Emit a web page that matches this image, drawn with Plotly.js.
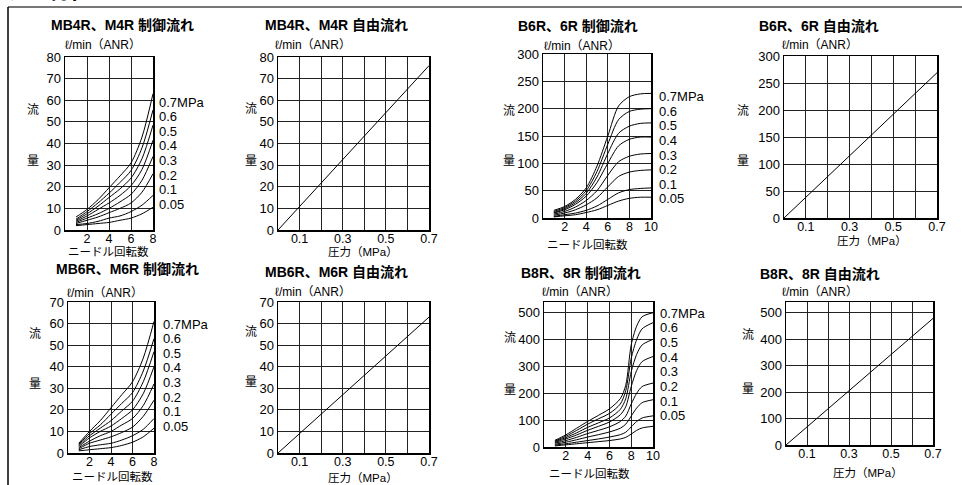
<!DOCTYPE html>
<html><head><meta charset="utf-8">
<script src="https://cdn.plot.ly/plotly-3.0.1.min.js"></script>
<style>html,body{margin:0;padding:0;background:#fff}#c{width:962px;height:485px}</style>
</head><body><div id="c"></div>
<script>
// ---------- DATA ----------
const pressureLabels = ['0.7MPa','0.6','0.5','0.4','0.3','0.2','0.1','0.05'];

// MB4R, M4R control flow (needle turns vs flow, l/min ANR), series order 0.7..0.05 MPa
const mb4rCtrlTurns = [1,2,3,4,5,6,7,8];
const mb4rCtrlFlow = [
  [6,9.5,14,19.5,25,31,43,63],
  [5,8.5,12.5,17,22,27.5,38,55.5],
  [4.5,7.5,11,15,19,24,33,48.5],
  [4,6.5,9.5,12.5,16,20.5,28,41.5],
  [3.5,5.5,7.5,10,13,16.5,23,34],
  [3,4.5,6,8,10,12.5,17.5,26],
  [2.5,3,4,5.5,6.5,8.5,11.5,16],
  [2,2.5,3,3.5,4.5,5.5,7.5,10.5]
];
// MB4R, M4R free flow (pressure MPa vs flow)
const freePressure = [0,0.1,0.2,0.3,0.4,0.5,0.6,0.7];
const mb4rFreeFlow = [0,10.9,21.8,32.7,43.6,54.5,65.3,76];

// B6R, 6R control flow
const b6rCtrlTurns = [1,2,3,4,5,6,7,8,9,10];
const b6rCtrlFlow = [
  [14,21,34,55,95,150,205,222,227,228],
  [12,19,31,50,85,135,180,195,199,200],
  [10,17,28,45,75,118,155,168,173,174],
  [9,15,25,40,65,100,132,144,148,148],
  [7,12,20,32,50,78,103,113,117,118],
  [5,9,15,24,37,57,76,84,87,88],
  [3,6,9,14,22,34,46,52,54,55],
  [2,4,6,10,15,23,31,36,38,38]
];
// B6R, 6R free flow
const b6rFreeFlow = [0,38.5,77,115.5,154,192.5,231,269];

// MB6R, M6R control flow
const mb6rCtrlTurns = [1,2,3,4,5,6,7,8];
const mb6rCtrlFlow = [
  [4.5,10,15,21,27,33,44,61],
  [4,9,13,18,23,28,38,53],
  [3.5,8,11.5,15,19.5,24,33,47],
  [3,7,10,12.5,16,20,27.5,40],
  [2.5,5.5,8,10,13,16,22,32],
  [2,4.5,6,7.5,9.5,12,17,24.5],
  [1.5,3,3.8,4.5,6,8,11,16],
  [1,1.5,2,2.5,3.5,5,7.5,11.5]
];
// MB6R, M6R free flow
const mb6rFreeFlow = [0,9,18,27,36,45,54,63];

// B8R, 8R control flow
const b8rCtrlTurns = [1,2,3,4,5,6,7,7.5,8,8.5,9,10];
const b8rCtrlFlow = [
  [25,45,70,95,118,142,180,230,380,450,485,500],
  [22,40,62,85,105,125,160,210,330,400,440,463],
  [20,35,53,73,90,108,140,180,280,345,380,401],
  [17,30,45,62,77,93,120,150,225,285,318,337],
  [14,24,36,50,62,75,95,115,160,200,225,238],
  [10,18,27,37,46,56,70,85,115,145,165,176],
  [7,12,18,24,30,37,46,55,75,95,108,116],
  [4,8,12,16,20,24,30,36,48,62,71,77]
];
// B8R, 8R free flow
const b8rFreeFlow = [0,68,137,205,274,342,410,478];

const ctrlTicks6 = [2,4,6,8];
const ctrlTicks10 = [2,4,6,8,10];
const freeTicks = [0.1,0.2,0.3,0.4,0.5,0.6,0.7];
const freeTickText = ['0.1','','0.3','','0.5','','0.7'];

// ---------- LAYOUT ----------
const W = 962, H = 485;
const fx = p => p / W, fy = p => 1 - p / H;
const FONT = 'Liberation Sans Narrow, Liberation Sans, Noto Sans CJK JP, sans-serif';
const JFONT = 'Liberation Sans, Noto Sans CJK JP, sans-serif';

const panels = [
  {title:'MB4R、M4R 制御流れ', xd:[65,153], yd:[57,230], xr:[0,8], yr:[0,80], ydt:10, xt:ctrlTicks6, xtt:null,
   xs:mb4rCtrlTurns, ys:mb4rCtrlFlow, lab:{x:157,y0:102,dy:14.6}, xtitle:'ニードル回転数', xtp:[108,252],
   tt:[122,25], unit:[103,45], ryu:[33,109,160]},
  {title:'MB4R、M4R 自由流れ', xd:[278,429], yd:[57,230], xr:[0,0.7], yr:[0,80], ydt:10, xt:freeTicks, xtt:freeTickText,
   xs:freePressure, ys:[mb4rFreeFlow], xtitle:'圧力（MPa）', xtp:[363,252],
   tt:[336,25], unit:[313,45], ryu:[251,107,160]},
  {title:'B6R、6R 制御流れ', xd:[543,651], yd:[54,218], xr:[0,10], yr:[0,300], ydt:50, xt:ctrlTicks10, xtt:null,
   xs:b6rCtrlTurns, ys:b6rCtrlFlow, lab:{x:657,y0:97,dy:14.5}, xtitle:'ニードル回転数', xtp:[587,245],
   tt:[578,26], unit:[582,46], ryu:[509,110,160]},
  {title:'B6R、6R 自由流れ', xd:[784,937], yd:[56,218], xr:[0,0.7], yr:[0,300], ydt:50, xt:freeTicks, xtt:freeTickText,
   xs:freePressure, ys:[b6rFreeFlow], xtitle:'圧力（MPa）', xtp:[872,241],
   tt:[819,26], unit:[820,45], ryu:[743,110,160]},
  {title:'MB6R、M6R 制御流れ', xd:[68,154], yd:[302,453], xr:[0,8], yr:[0,70], ydt:10, xt:ctrlTicks6, xtt:null,
   xs:mb6rCtrlTurns, ys:mb6rCtrlFlow, lab:{x:161,y0:324,dy:14.6}, xtitle:'ニードル回転数', xtp:[112,477],
   tt:[127,269], unit:[105,293], ryu:[35,332,382]},
  {title:'MB6R、M6R 自由流れ', xd:[278,429], yd:[302,453], xr:[0,0.7], yr:[0,70], ydt:10, xt:freeTicks, xtt:freeTickText,
   xs:freePressure, ys:[mb6rFreeFlow], xtitle:'圧力（MPa）', xtp:[363,478],
   tt:[336,272], unit:[313,292], ryu:[251,330,380]},
  {title:'B8R、8R 制御流れ', xd:[544,653], yd:[302,447], xr:[0,10], yr:[0,540], ydt:100, xt:ctrlTicks10, xtt:null,
   xs:b8rCtrlTurns, ys:b8rCtrlFlow, lab:{x:658,y0:313,dy:14.7}, xtitle:'ニードル回転数', xtp:[589,474],
   tt:[581,273], unit:[580,292], ryu:[510,336,388]},
  {title:'B8R、8R 自由流れ', xd:[786,933], yd:[302,445], xr:[0,0.7], yr:[0,540], ydt:100, xt:freeTicks, xtt:freeTickText,
   xs:freePressure, ys:[b8rFreeFlow], xtitle:'圧力（MPa）', xtp:[868,473],
   tt:[820,274], unit:[820,292], ryu:[748,333,387]}
];

const traces = [];
const layout = {
  width: W, height: H, margin:{l:0,r:0,t:0,b:0,pad:0},
  paper_bgcolor:'#fff', plot_bgcolor:'#fff', showlegend:false,
  font:{family:FONT, size:13, color:'#000'},
  annotations:[], shapes:[]
};

panels.forEach((p, i) => {
  const n = i + 1;
  const xa = 'xaxis' + (n === 1 ? '' : n), ya = 'yaxis' + (n === 1 ? '' : n);
  const xr = 'x' + (n === 1 ? '' : n), yr = 'y' + (n === 1 ? '' : n);
  const yticks = [];
  for (let v = 0; v <= p.yr[1] + 1e-9; v += p.ydt) yticks.push(v);
  layout[xa] = {
    domain:[fx(p.xd[0]), fx(p.xd[1])], range:p.xr, anchor:yr,
    tickvals:p.xt, ticktext:p.xtt || p.xt.map(String), ticks:'', ticklabelstandoff:-4,
    showgrid:true, gridcolor:'#222', gridwidth:1, zeroline:false,
    showline:true, linecolor:'#000', linewidth:1.5, mirror:true,
    tickfont:{family:FONT, size:12.5, color:'#000'}, fixedrange:true
  };
  layout[ya] = {
    domain:[fy(p.yd[1]), fy(p.yd[0])], range:p.yr, anchor:xr,
    tickvals:yticks, ticks:'', showgrid:true, gridcolor:'#222', gridwidth:1, zeroline:false,
    showline:true, linecolor:'#000', linewidth:1.5, mirror:true,
    tickfont:{family:FONT, size:13, color:'#000'}, fixedrange:true
  };
  p.ys.forEach((ser, k) => {
    traces.push({x:p.xs, y:ser, xaxis:xr, yaxis:yr, type:'scatter', mode:'lines',
      line:{color:'#000', width:1, shape: p.lab ? 'spline' : 'linear', smoothing:0.8}, hoverinfo:'skip'});
  });
  if (p.lab) {
    pressureLabels.forEach((t, k) => {
      layout.annotations.push({text:t, xref:'paper', yref:'paper', x:fx(p.lab.x), y:fy(p.lab.y0 + k*p.lab.dy),
        xanchor:'left', yanchor:'middle', showarrow:false, font:{family:FONT, size:13, color:'#000'}});
    });
  }
  layout.annotations.push({text:'<b>'+p.title+'</b>', xref:'paper', yref:'paper', x:fx(p.tt[0]), y:fy(p.tt[1]),
    xanchor:'center', yanchor:'middle', showarrow:false, font:{family:JFONT, size:14, color:'#000'}});
  layout.annotations.push({text:'ℓ/min（ANR）', xref:'paper', yref:'paper', x:fx(p.unit[0]), y:fy(p.unit[1]),
    xanchor:'center', yanchor:'middle', showarrow:false, font:{family:FONT, size:12, color:'#000'}});
  layout.annotations.push({text:p.xtitle, xref:'paper', yref:'paper', x:fx(p.xtp[0]), y:fy(p.xtp[1]),
    xanchor:'center', yanchor:'middle', showarrow:false, font:{family:FONT, size:11.5, color:'#000'}});
  layout.annotations.push({text:'流', xref:'paper', yref:'paper', x:fx(p.ryu[0]), y:fy(p.ryu[1]),
    xanchor:'center', yanchor:'middle', showarrow:false, font:{family:'Noto Sans CJK JP', size:12, color:'#000'}});
  layout.annotations.push({text:'量', xref:'paper', yref:'paper', x:fx(p.ryu[0]), y:fy(p.ryu[2]),
    xanchor:'center', yanchor:'middle', showarrow:false, font:{family:'Noto Sans CJK JP', size:12, color:'#000'}});
});

// page frame and clipped heading
layout.shapes.push({type:'line', xref:'paper', yref:'paper', x0:fx(8), x1:1, y0:fy(7), y1:fy(7), line:{color:'#777', width:2}});
layout.shapes.push({type:'line', xref:'paper', yref:'paper', x0:fx(8), x1:fx(8), y0:fy(7), y1:0, line:{color:'#000', width:1.5}});
layout.annotations.push({text:'<b>流量特性</b>', xref:'paper', yref:'paper', x:fx(2), y:fy(6),
  xanchor:'left', yanchor:'bottom', showarrow:false, font:{family:'Noto Sans CJK JP', size:22, color:'#000'}});

Plotly.newPlot('c', traces, layout, {staticPlot:true, displayModeBar:false});
</script>
</body></html>
